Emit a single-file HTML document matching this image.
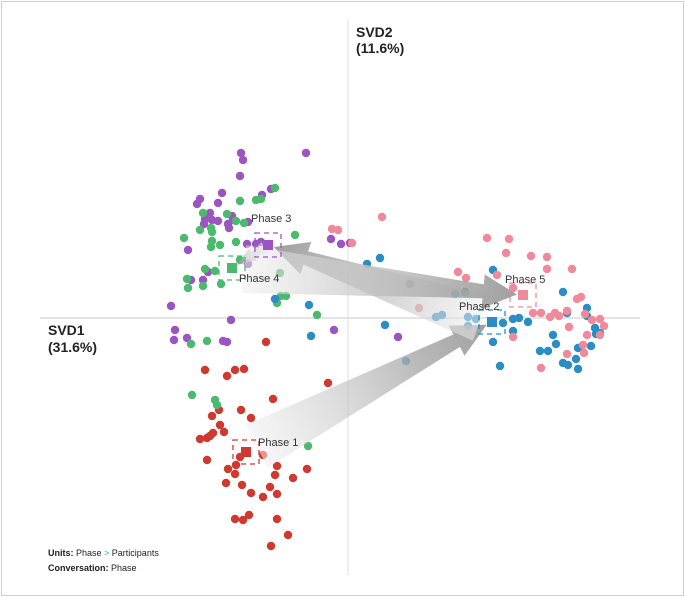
<!DOCTYPE html>
<html><head><meta charset="utf-8"><style>
html,body{margin:0;padding:0;background:#fff}
svg{display:block;font-family:"Liberation Sans",Arial,sans-serif}
</style></head><body>
<svg id="chart" width="685" height="598" viewBox="0 0 685 598">
<rect x="1.5" y="1.5" width="682" height="594" fill="#fff" stroke="#d0d0d0"/>
<g id="axes"></g><g id="dots"></g><g id="arrows"></g><g id="cents"></g><g id="labels"></g>
<text x="356" y="37" font-size="14" font-weight="bold" fill="#222">SVD2</text>
<text x="356" y="53" font-size="14" font-weight="bold" fill="#222">(11.6%)</text>
<text x="48" y="335" font-size="14" font-weight="bold" fill="#222">SVD1</text>
<text x="48" y="352" font-size="14" font-weight="bold" fill="#222">(31.6%)</text>
<text x="48" y="556" font-size="9" fill="#222"><tspan font-weight="bold">Units:</tspan> Phase <tspan fill="#2bb39a">&gt;</tspan> Participants</text>
<text x="48" y="571" font-size="9" fill="#222"><tspan font-weight="bold">Conversation:</tspan> Phase</text>
</svg>
<script>
const phaseNames=["Phase 1","Phase 2","Phase 3","Phase 4","Phase 5"];
const phaseColors=["#d0392f","#2a8ec4","#9b55c0","#4cba6e","#f0899a"];
const phase1Pts=[[-82,-24],[-143,-52],[-121,-58],[-113,-52],[-104,-51],[-20,-65],[-75,-81],[-129,-92],[-107,-92],[-136,-98],[-128,-107],[-97,-100],[-124,-114],[-135,-115],[-138,-118],[-141,-120],[-148,-121],[-141,-142],[-120,-151],[-113,-156],[-122,-165],[-106,-167],[-97,-175],[-85,-179],[-78,-169],[-71,-176],[-73,-157],[-71,-148],[-85,-137],[-55,-160],[-41,-151],[-113,-201],[-105,-202],[-99,-197],[-71,-201],[-60,-217],[-77,-228],[-108,-139],[-112,-147]];
const phase2Pts=[[32,60],[62,34],[107,24],[117,26],[145,48],[88,1],[94,3],[37,-7],[58,-43],[120,1],[120,-8],[128,-1],[155,-5],[165,-1],[171,0],[180,-4],[165,-13],[145,-24],[152,-48],[192,-33],[200,-33],[205,-17],[208,-26],[215,26],[219,5],[239,10],[239,2],[247,-10],[248,-16],[243,-28],[230,-30],[228,-41],[215,-45],[220,-47],[230,-51],[252,-15],[19,54],[-39,13],[-37,-18],[-73,19]];
const phase3Pts=[[-107,165],[-105,158],[-42,165],[-108,142],[-126,125],[-148,119],[-151,114],[-130,115],[-77,129],[-86,123],[-116,102],[-143,99],[-136,98],[-130,97],[-138,105],[-115,98],[-100,96],[-120,94],[-144,94],[-119,90],[-101,74],[-92,74],[-87,76],[-160,68],[-100,54],[-140,46],[-157,38],[-145,38],[-177,12],[-17,79],[-7,74],[2,75],[-117,-2],[-173,-12],[-174,-22],[-125,-23],[-121,-24],[-14,-12],[-161,-20],[50,-19]];
const phase4Pts=[[-73,130],[-87,119],[-92,118],[-108,117],[-145,105],[-121,104],[-104,95],[-112,97],[-137,90],[-136,86],[-148,88],[-164,80],[-136,77],[-137,71],[-112,76],[-53,83],[-128,73],[-143,49],[-133,47],[-161,39],[-160,30],[-127,34],[-145,32],[-68,45],[-67,22],[-71,15],[-62,22],[-31,3],[-157,-26],[-141,-23],[-156,-77],[-133,-82],[-131,-87],[-40,-128],[-108,58]];
const phase5Pts=[[34,101],[139,80],[161,79],[158,65],[183,62],[199,61],[199,49],[224,49],[110,46],[118,40],[149,43],[165,30],[71,10],[185,5],[193,5],[202,1],[207,5],[211,2],[219,7],[221,-9],[229,19],[233,21],[237,4],[244,-2],[252,-1],[256,-8],[252,-17],[239,-17],[235,-27],[236,-35],[219,-36],[165,-19],[193,-50],[-16,89],[-10,88],[4,75]];
const centroidX=[-102,144,-80,-116,175];
const centroidY=[-134,-4,73,50,23];
</script>
<script>
const NS="http://www.w3.org/2000/svg";
const X0=348,Y0=318,K=1;
const sx=v=>X0+v*K, sy=v=>Y0-v*K;
function mk(tag,attrs,parent){const e=document.createElementNS(NS,tag);for(const k in attrs)e.setAttribute(k,attrs[k]);parent.appendChild(e);return e;}
const axes=document.getElementById('axes');
let a1=mk('line',{x1:sx(0),x2:sx(0),y1:20,y2:575,stroke:'#dcdcdc','stroke-width':1},axes);


let a2=mk('line',{x1:40,x2:640,y1:sy(0),y2:sy(0),stroke:'#dcdcdc','stroke-width':1.5},axes);


const dots=document.getElementById('dots');
const allPts=[phase1Pts,phase2Pts,phase3Pts,phase4Pts,phase5Pts];
const drawOrder=[0,2,3,1,4];
drawOrder.forEach(p=>{allPts[p].forEach(pt=>{
  const c=mk('circle',{cx:sx(pt[0]),cy:sy(pt[1]),r:4.2,fill:phaseColors[p]},dots);
  
  
});});
const arrows=document.getElementById('arrows');
const defs=mk('defs',{},document.getElementById('chart'));
for(let i=0;i<4;i++){
  const x1=sx(centroidX[i]),y1=sy(centroidY[i]),x2=sx(centroidX[i+1]),y2=sy(centroidY[i+1]);
  const dx=x2-x1,dy=y2-y1,L=Math.hypot(dx,dy),ux=dx/L,uy=dy/L,nx=-uy,ny=ux;
  const tipD=L-6,hl=Math.min(34,L*0.45),tailW=i==2?6:24,shaftW=i==2?3:7,headW=i==2?7:17;
  const P=(d,w)=>[x1+ux*d+nx*w,y1+uy*d+ny*w];
  const st=i==2?4:12;
  const pts=[P(st,tailW),P(tipD-hl,shaftW),P(tipD-hl,headW),P(tipD,0),P(tipD-hl,-headW),P(tipD-hl,-shaftW),P(st,-tailW)];
  const g=mk('linearGradient',{id:'ag'+i,gradientUnits:'userSpaceOnUse',x1:x1,y1:y1,x2:x2,y2:y2},defs);
  mk('stop',{offset:'0','stop-color':'#f2f2f2','stop-opacity':'0.5'},g);
  mk('stop',{offset:'0.7','stop-color':'#a8a8a8','stop-opacity':'0.8'},g);
  mk('stop',{offset:'1','stop-color':'#8c8c8c','stop-opacity':'0.85'},g);
  const poly=mk('polygon',{points:pts.map(p=>p.join(',')).join(' '),fill:'url(#ag'+i+')'},arrows);
  
  
}
const cents=document.getElementById('cents');
const labels=document.getElementById('labels');
const labOff=[[12,-6],[-33,-12],[-17,-23],[7,14],[-18,-12]];
for(let i=0;i<5;i++){
  const cx=sx(centroidX[i]),cy=sy(centroidY[i]);
  const b=mk('rect',{x:cx-13,y:cy-12,width:26,height:24,fill:'none',stroke:phaseColors[i],'stroke-width':1.3,'stroke-dasharray':'5,4'},cents);
  
  
  const s=mk('rect',{x:cx-5,y:cy-5,width:10,height:10,fill:phaseColors[i]},cents);
  
  
  const t=mk('text',{x:cx+labOff[i][0],y:cy+labOff[i][1],'font-size':11,fill:'#333'},labels);
  t.textContent=phaseNames[i];
  
  
}
</script>
</body></html>
